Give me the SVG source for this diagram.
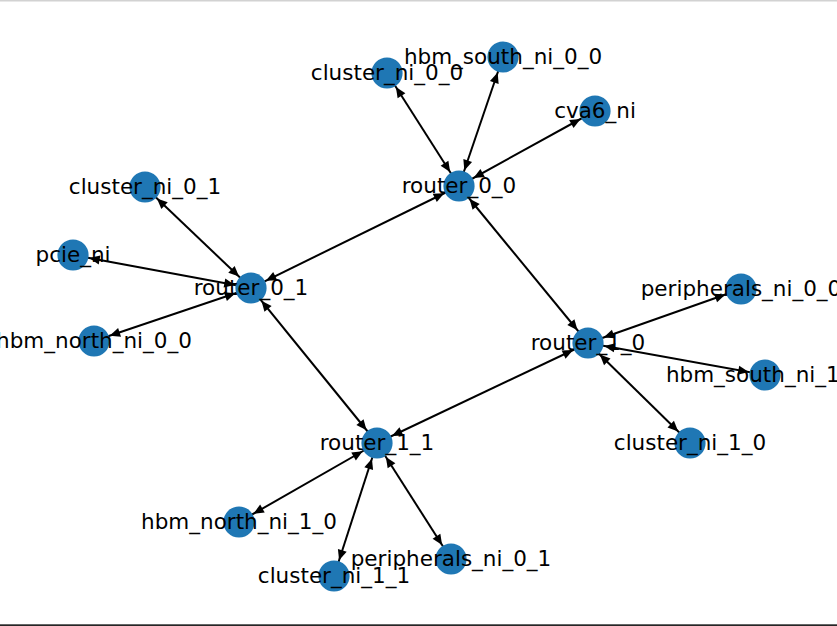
<svg xmlns="http://www.w3.org/2000/svg" width="837" height="626" viewBox="0 0 837 626">
<style>
.edge{stroke:#000;stroke-width:2;fill:none;marker-start:url(#ah);marker-end:url(#ah)}
.node circle{fill:#1f77b4}
.node text{font-family:"DejaVu Sans","Liberation Sans",sans-serif;font-size:21.5px;fill:#000;text-anchor:middle}
</style>
<defs>
<marker id="ah" markerUnits="userSpaceOnUse" orient="auto-start-reverse" markerWidth="40" markerHeight="20" refX="0" refY="0" overflow="visible">
<path d="M-16.5,0 L-27,-4.6 L-27,4.6 Z" fill="#000"/>
</marker>
</defs>
<rect x="0" y="0" width="837" height="626" fill="#fff"/>
<rect x="0" y="0" width="837" height="1.5" fill="#d2d2d2"/>
<rect x="0" y="624.3" width="837" height="1.7" fill="#262626"/>
<g id="edges">
<line class="edge" x1="459" y1="186" x2="387" y2="73"/>
<line class="edge" x1="459" y1="186" x2="503" y2="57"/>
<line class="edge" x1="459" y1="186" x2="595" y2="111"/>
<line class="edge" x1="459" y1="186" x2="251" y2="288"/>
<line class="edge" x1="459" y1="186" x2="588" y2="343"/>
<line class="edge" x1="251" y1="288" x2="145" y2="187"/>
<line class="edge" x1="251" y1="288" x2="73" y2="255"/>
<line class="edge" x1="251" y1="288" x2="94" y2="341"/>
<line class="edge" x1="251" y1="288" x2="377" y2="443"/>
<line class="edge" x1="588" y1="343" x2="741" y2="289"/>
<line class="edge" x1="588" y1="343" x2="765" y2="375"/>
<line class="edge" x1="588" y1="343" x2="690" y2="443"/>
<line class="edge" x1="588" y1="343" x2="377" y2="443"/>
<line class="edge" x1="377" y1="443" x2="239" y2="522"/>
<line class="edge" x1="377" y1="443" x2="334" y2="576"/>
<line class="edge" x1="377" y1="443" x2="451" y2="559"/>
</g>
<g id="cluster_ni_0_0" class="node"><circle cx="387" cy="73" r="15.6"/><text x="387" y="79.5">cluster_ni_0_0</text></g>
<g id="hbm_south_ni_0_0" class="node"><circle cx="503" cy="57" r="15.6"/><text x="503" y="63.5">hbm_south_ni_0_0</text></g>
<g id="cva6_ni" class="node"><circle cx="595" cy="111" r="15.6"/><text x="595" y="117.5">cva6_ni</text></g>
<g id="router_0_0" class="node"><circle cx="459" cy="186" r="15.6"/><text x="459" y="192.5">router_0_0</text></g>
<g id="cluster_ni_0_1" class="node"><circle cx="145" cy="187" r="15.6"/><text x="145" y="193.5">cluster_ni_0_1</text></g>
<g id="pcie_ni" class="node"><circle cx="73" cy="255" r="15.6"/><text x="73" y="261.5">pcie_ni</text></g>
<g id="router_0_1" class="node"><circle cx="251" cy="288" r="15.6"/><text x="251" y="294.5">router_0_1</text></g>
<g id="hbm_north_ni_0_0" class="node"><circle cx="94" cy="341" r="15.6"/><text x="94" y="347.5">hbm_north_ni_0_0</text></g>
<g id="peripherals_ni_0_0" class="node"><circle cx="741" cy="289" r="15.6"/><text x="741" y="295.5">peripherals_ni_0_0</text></g>
<g id="router_1_0" class="node"><circle cx="588" cy="343" r="15.6"/><text x="588" y="349.5">router_1_0</text></g>
<g id="hbm_south_ni_1_0" class="node"><circle cx="765" cy="375" r="15.6"/><text x="765" y="381.5">hbm_south_ni_1_0</text></g>
<g id="cluster_ni_1_0" class="node"><circle cx="690" cy="443" r="15.6"/><text x="690" y="449.5">cluster_ni_1_0</text></g>
<g id="router_1_1" class="node"><circle cx="377" cy="443" r="15.6"/><text x="377" y="449.5">router_1_1</text></g>
<g id="hbm_north_ni_1_0" class="node"><circle cx="239" cy="522" r="15.6"/><text x="239" y="528.5">hbm_north_ni_1_0</text></g>
<g id="cluster_ni_1_1" class="node"><circle cx="334" cy="576" r="15.6"/><text x="334" y="582.5">cluster_ni_1_1</text></g>
<g id="peripherals_ni_0_1" class="node"><circle cx="451" cy="559" r="15.6"/><text x="451" y="565.5">peripherals_ni_0_1</text></g>
</svg>
